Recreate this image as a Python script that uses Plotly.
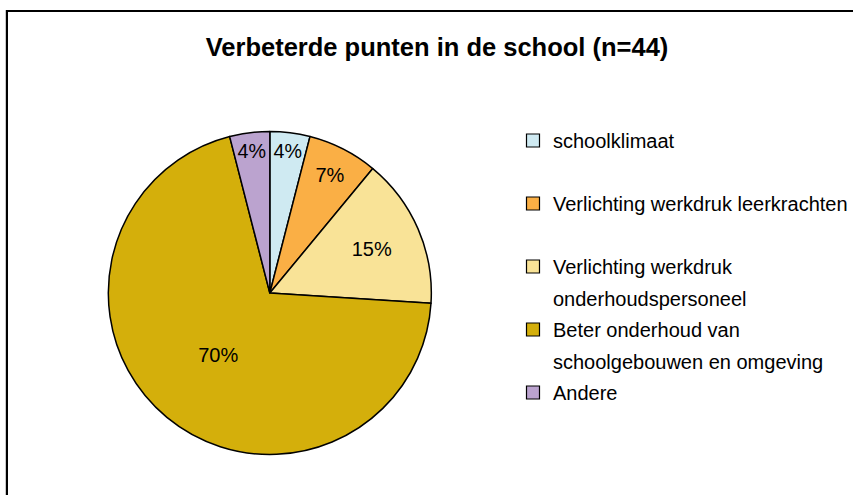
import plotly.graph_objects as go

categories = [
    "schoolklimaat",
    "Verlichting werkdruk leerkrachten",
    "Verlichting werkdruk onderhoudspersoneel",
    "Beter onderhoud van schoolgebouwen en omgeving",
    "Andere",
]
legend_lines = [
    ["schoolklimaat", "\u00a0"],
    ["Verlichting werkdruk leerkrachten", "\u00a0"],
    ["Verlichting werkdruk", "onderhoudspersoneel"],
    ["Beter onderhoud van", "schoolgebouwen en omgeving"],
    ["Andere"],
]
values = [4, 7, 15, 70, 4]
colors = ["#CFEAF2", "#FAAF45", "#F9E397", "#D4AF0B", "#BBA3CF"]

W, H = 853, 495
cx, cy, r = 274, 293, 164

fig = go.Figure()
fig.add_trace(go.Pie(
    labels=categories,
    values=values,
    sort=False,
    direction="clockwise",
    rotation=0,
    marker=dict(colors=colors, line=dict(color="black", width=1.5)),
    textinfo="percent",
    texttemplate="%{percent:.0%}",
    textposition="inside",
    insidetextorientation="horizontal",
    textfont=dict(family="Liberation Sans, Arial, sans-serif", size=20, color="black"),
    domain=dict(x=[(cx - r) / W, (cx + r) / W], y=[(H - cy - r) / H, (H - cy + r) / H]),
    showlegend=False,
))

# legend entries (one per text line, marker only on the first line)
k = 0
for i, lines in enumerate(legend_lines):
    for j, line in enumerate(lines):
        first = j == 0
        fig.add_trace(go.Scatter(
            x=[None], y=[None], mode="markers", name=line,
            legendgroup=f"g{k}",
            marker=dict(symbol="square", size=13,
                        color=colors[i] if first else "rgba(0,0,0,0)",
                        line=dict(color="black" if first else "rgba(0,0,0,0)", width=1.2)),
            hoverinfo="skip",
        ))
        k += 1

fig.add_shape(type="rect", xref="paper", yref="paper",
              x0=7 / W, x1=1.05, y0=-0.05, y1=1 - 11 / H,
              line=dict(color="black", width=2.2), fillcolor="rgba(0,0,0,0)", layer="below")

fig.update_layout(
    width=W, height=H,
    margin=dict(l=0, r=0, t=0, b=0),
    paper_bgcolor="white",
    plot_bgcolor="white",
    xaxis=dict(visible=False),
    yaxis=dict(visible=False),
    title=dict(
        text="<b>Verbeterde punten in de school (n=44)</b>",
        x=437 / W, xanchor="center", y=1 - 47 / H, yanchor="middle",
        font=dict(family="Liberation Sans, Arial, sans-serif", size=25.5, color="black"),
    ),
    legend=dict(
        x=521 / W, y=1 - 121 / H, xanchor="left", yanchor="top",
        font=dict(family="Liberation Sans, Arial, sans-serif", size=20, color="black"),
        bgcolor="rgba(0,0,0,0)",
        traceorder="grouped",
        tracegroupgap=2.5,
    ),
)

fig.write_html("out.html", config={"displayModeBar": False},
               post_script="document.body.style.margin='0';")
